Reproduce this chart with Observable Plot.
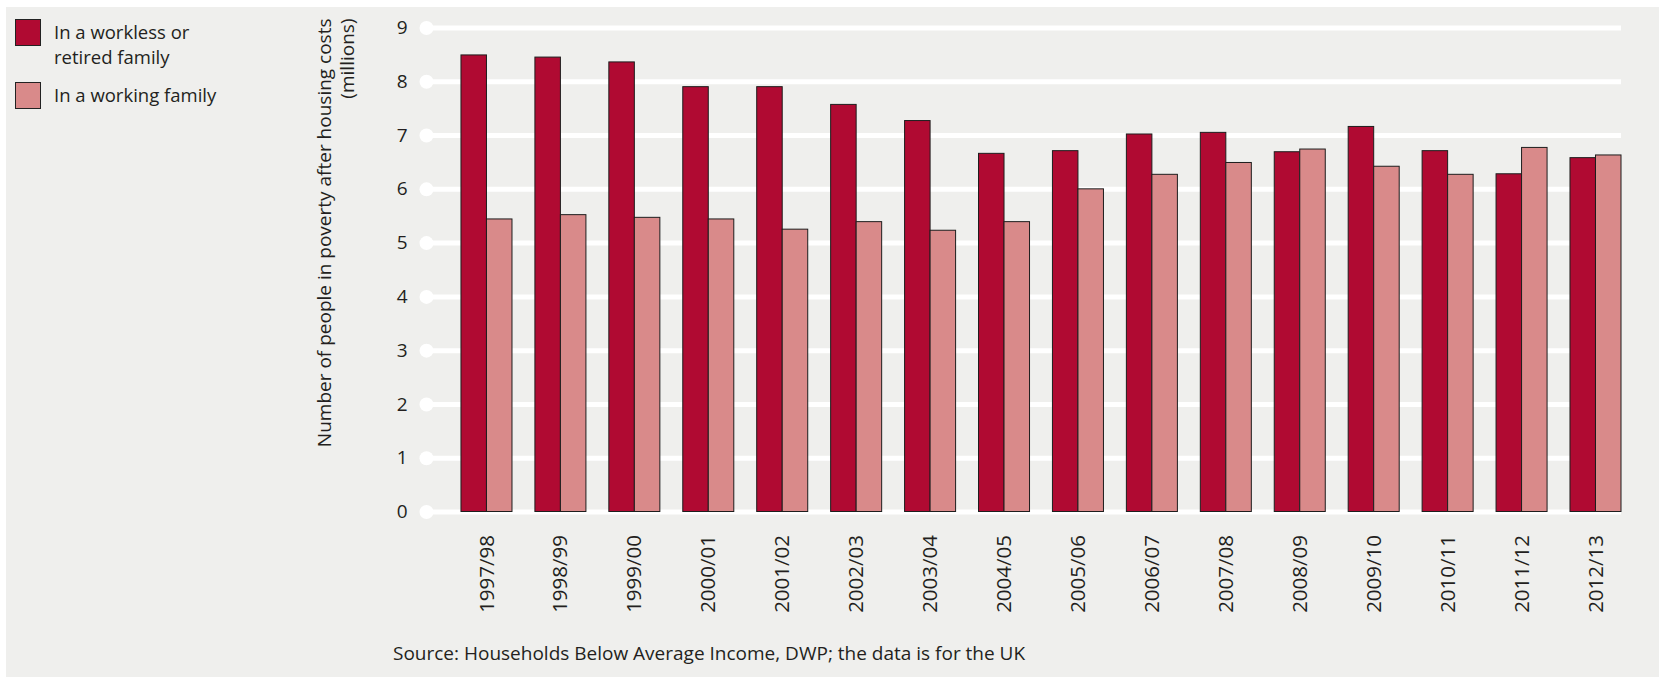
<!DOCTYPE html>
<html>
<head>
<meta charset="utf-8">
<script src="https://cdn.jsdelivr.net/npm/d3@7"></script>
<script src="https://cdn.jsdelivr.net/npm/@observablehq/plot@0.6"></script>
<style>
  html, body { margin: 0; padding: 0; background: #ffffff; }
  #wrap { position: relative; width: 1659px; height: 678px; overflow: hidden; background: #ffffff;
          font-family: "Open Sans", sans-serif; color: #231f20; }
  #panel { position: absolute; left: 6px; top: 7px; right: 0; bottom: 1px; background: #efefed; }
  #chart { position: absolute; left: 0; top: 0; }
  #legend { position: absolute; left: 15px; top: 19px; font-size: 18.5px; line-height: 25px; }
  .item { position: relative; padding-left: 39px; }
  .item + .item { margin-top: 13px; }
  .swatch { position: absolute; left: 0; top: 0; width: 24px; height: 25px; border: 1px solid #222; }
  #caption { position: absolute; left: 393px; top: 641px; font-size: 19px; line-height: 25px; white-space: nowrap; }
</style>
</head>
<body>
<div id="wrap">
  <div id="panel"></div>
  <div id="chart"></div>
  <div id="legend"></div>
  <div id="caption"></div>
</div>
<script>
// ---- data ----
const periods = ["1997/98","1998/99","1999/00","2000/01","2001/02","2002/03","2003/04","2004/05",
                 "2005/06","2006/07","2007/08","2008/09","2009/10","2010/11","2011/12","2012/13"];
const worklessOrRetired = [8.49, 8.45, 8.36, 7.90, 7.90, 7.57, 7.27, 6.66,
                           6.71, 7.02, 7.05, 6.69, 7.16, 6.71, 6.28, 6.58];
const working = [5.44, 5.52, 5.47, 5.44, 5.25, 5.39, 5.23, 5.39,
                 6.00, 6.27, 6.49, 6.74, 6.42, 6.27, 6.77, 6.63];
const seriesNames = ["In a workless or retired family", "In a working family"];
const legendLabels = ["In a workless or<br>retired family", "In a working family"];
const seriesColors = ["#b00a32", "#d98a8a"];
const yTicks = [0, 1, 2, 3, 4, 5, 6, 7, 8, 9];
const yLabel = "Number of people in poverty after housing costs\n(millions)";
const captionText = "Source: Households Below Average Income, DWP; the data is for the UK";

// ---- build table ----
const rows = [];
periods.forEach((p, i) => {
  rows.push({i, period: p, series: seriesNames[0], value: worklessOrRetired[i]});
  rows.push({i, period: p, series: seriesNames[1], value: working[i]});
});
const BW = 0.345; // bar width in index units

const chart = Plot.plot({
  width: 1659,
  height: 620,
  marginLeft: 426,
  marginRight: 38,
  marginTop: 27.5,
  marginBottom: 108.5,
  style: {background: "transparent", color: "#231f20", fontFamily: "'Open Sans', sans-serif"},
  x: {type: "linear", domain: [-0.818, 15.345], axis: null},
  y: {domain: [0, 9], axis: null},
  color: {domain: seriesNames, range: seriesColors},
  marks: [
    Plot.ruleY(yTicks, {stroke: "#ffffff", strokeWidth: 5}),
    Plot.dot(yTicks, {y: d => d, frameAnchor: "left", r: 7, fill: "#ffffff", stroke: null}),
    Plot.rectY(rows, {
      x1: d => d.series === seriesNames[0] ? d.i - BW : d.i,
      x2: d => d.series === seriesNames[0] ? d.i : d.i + BW,
      y: "value",
      fill: "series",
      stroke: "#1e1e1e",
      strokeWidth: 1
    }),
    Plot.axisY({ticks: yTicks, tickSize: 0, tickPadding: 19, fontSize: 19, label: null}),
    Plot.axisX({ticks: periods.map((_, i) => i), tickFormat: i => periods[i], tickRotate: -90,
                tickSize: 0, tickPadding: 23, fontSize: 20.5, label: null}),
    Plot.text([yLabel], {frameAnchor: "top-left", rotate: -90, textAnchor: "end", lineAnchor: "top",
                         lineHeight: 1.22, dx: -112, dy: -9.5, fontSize: 19})
  ]
});
document.getElementById("chart").appendChild(chart);

// legend
const legend = document.getElementById("legend");
seriesNames.forEach((s, k) => {
  const item = document.createElement("div");
  item.className = "item";
  item.innerHTML = `<span class="swatch" style="background:${seriesColors[k]}"></span>${legendLabels[k]}`;
  legend.appendChild(item);
});
document.getElementById("caption").textContent = captionText;
</script>
</body>
</html>
